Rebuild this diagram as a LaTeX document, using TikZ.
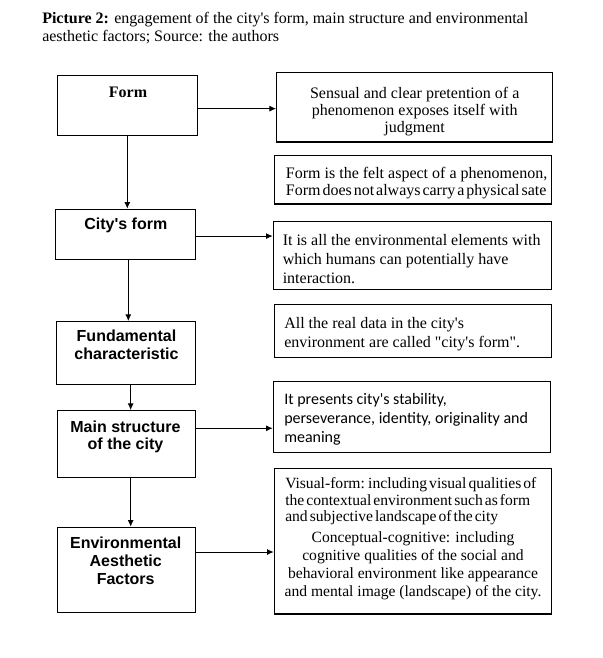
\documentclass[tikz,border=0pt]{standalone}
\usepackage{fontspec}
\setmainfont{Liberation Serif}[Ligatures=TeXOff]
\newfontfamily\arialf{Liberation Sans}
\newfontfamily\calibrif{Carlito}
\usetikzlibrary{arrows.meta}
\newcommand\ap{\symbol{39}}
\newcommand\dq{\symbol{34}}
\newcommand\tightsp{\spaceskip=0.12em\relax}
\newcommand\tightB{\fontsize{11.7}{12.5}\selectfont\spaceskip=0.13em\relax}
\begin{document}
\begin{tikzpicture}[x=0.75pt,y=-0.75pt,
  box/.style={draw, line width=0.9pt, inner sep=0pt},
  arr/.style={line width=0.75pt, -{Latex[length=5pt,width=4.5pt]}},
  ltxt/.style={inner sep=0pt, anchor=north, align=center, font=\arialf\bfseries\fontsize{12}{13.5}\selectfont},
  rtxt/.style={inner sep=0pt, font=\fontsize{12}{13.1}\selectfont}]
\fill[white] (0,0) rectangle (603,658);
\useasboundingbox (0,0) rectangle (603,658);

% title
\node[inner sep=0pt, anchor=north west, align=left, font=\fontsize{12}{13}\selectfont] (title) at (42,11.5)
  {\strut\textbf{Picture 2:} engagement of the city\ap s form, main structure and environmental\\aesthetic factors; Source: the authors};

% left boxes
\node[box, minimum width=105pt, minimum height=45pt] (form) at (127.3,105.3) {};
\node[box, minimum width=104.7pt, minimum height=37.5pt] (city) at (125.5,234.3) {};
\node[box, minimum width=104pt, minimum height=47pt] (fund) at (126,353) {};
\node[box, minimum width=103.5pt, minimum height=50pt] (main) at (126.3,444) {};
\node[box, minimum width=103.5pt, minimum height=63.75pt] (env) at (126.3,569.8) {};

\node[ltxt, font=\bfseries\fontsize{12}{13.5}\selectfont] (formt) at (128,84.3) {\strut Form};
\node[ltxt] (cityt) at (125.8,216.8) {\strut City\ap s form};
\node[ltxt] (fundt) at (126.5,328.8) {\strut Fundamental\\characteristic};
\node[ltxt, font=\arialf\bfseries\fontsize{12}{13.2}\selectfont] (maint) at (125.5,419.8) {\strut Main structure\\of the city};
\node[ltxt] (envt) at (125.7,535.3) {\strut Environmental\\Aesthetic\\Factors};

% right boxes
\node[box, minimum width=207pt, minimum height=52pt] (r1) at (414.7,107.35) {};
\node[box, minimum width=208pt, minimum height=36.2pt] (r2) at (413,179.85) {};
\node[box, minimum width=208.8pt, minimum height=50.7pt] (r3) at (412.5,255.5) {};
\node[box, minimum width=208pt, minimum height=39.75pt] (r4) at (413,330.8) {};
\node[box, minimum width=208pt, minimum height=53pt] (r5) at (412,417) {};
\node[box, minimum width=208pt, minimum height=109.3pt] (r6) at (413,541.15) {};

\node[rtxt, anchor=north, align=center] (r1t) at (414.7,85.5)
  {\strut Sensual and clear pretention of a\\phenomenon exposes itself with\\judgment};
\node[rtxt, anchor=north west, align=left, font=\fontsize{12}{11.8}\selectfont] (r2t) at (285.7,167)
  {\strut Form is the felt aspect of a phenomenon,\\\tightsp Form does not always carry a physical sate};
\node[rtxt, anchor=north west, align=left, font=\fontsize{12}{14.1}\selectfont] (r3t) at (282.5,232.5)
  {\strut It is all the environmental elements with\\which humans can potentially have\\interaction.};
\node[rtxt, anchor=north west, align=left, font=\fontsize{12}{14.25}\selectfont] (r4t) at (284,315)
  {\strut All the real data in the city\ap s\\environment are called \dq city\ap s form\dq.};
\node[rtxt, anchor=north west, align=left, font=\calibrif\fontsize{12}{14.25}\selectfont] (r5t) at (284,390.5)
  {\strut It presents city\ap s stability,\\perseverance, identity, originality and\\meaning};
\node[rtxt, anchor=north west, align=left, font=\tightB] (r6a) at (285,476.5)
  {\strut Visual-form: including visual qualities of\\the contextual environment such as form\\and subjective landscape of the city};
\node[rtxt, anchor=north, align=center, font=\fontsize{11.7}{13.55}\selectfont] (r6b) at (413,529.2)
  {\strut Conceptual-cognitive: including\\cognitive qualities of the social and\\behavioral environment like appearance\\and mental image (landscape) of the city.};

% vertical connectors
\draw[arr] (form.south) -- (form.south |- city.north);
\draw[arr] ([xshift=2.1pt]city.south) -- ([xshift=2.1pt]city.south |- fund.north);
\draw[arr] ([xshift=3.5pt]fund.south) -- ([xshift=3.5pt]fund.south |- main.north);
\draw[arr] ([xshift=3.3pt]main.south) -- ([xshift=3.3pt]main.south |- env.north);

% horizontal connectors
\draw[arr] ([yshift=-2.5pt]form.east) -- ([yshift=-2.5pt]form.east -| r1.west);
\draw[arr] ([yshift=-1.3pt]city.east) -- ([yshift=-1.3pt]city.east -| r3.west);
\draw[arr] ([yshift=11.8pt]main.east) -- ([yshift=11.8pt]main.east -| r5.west);
\draw[arr] ([yshift=13.35pt]env.east) -- ([yshift=13.35pt]env.east -| r6.west);
\end{tikzpicture}
\end{document}
